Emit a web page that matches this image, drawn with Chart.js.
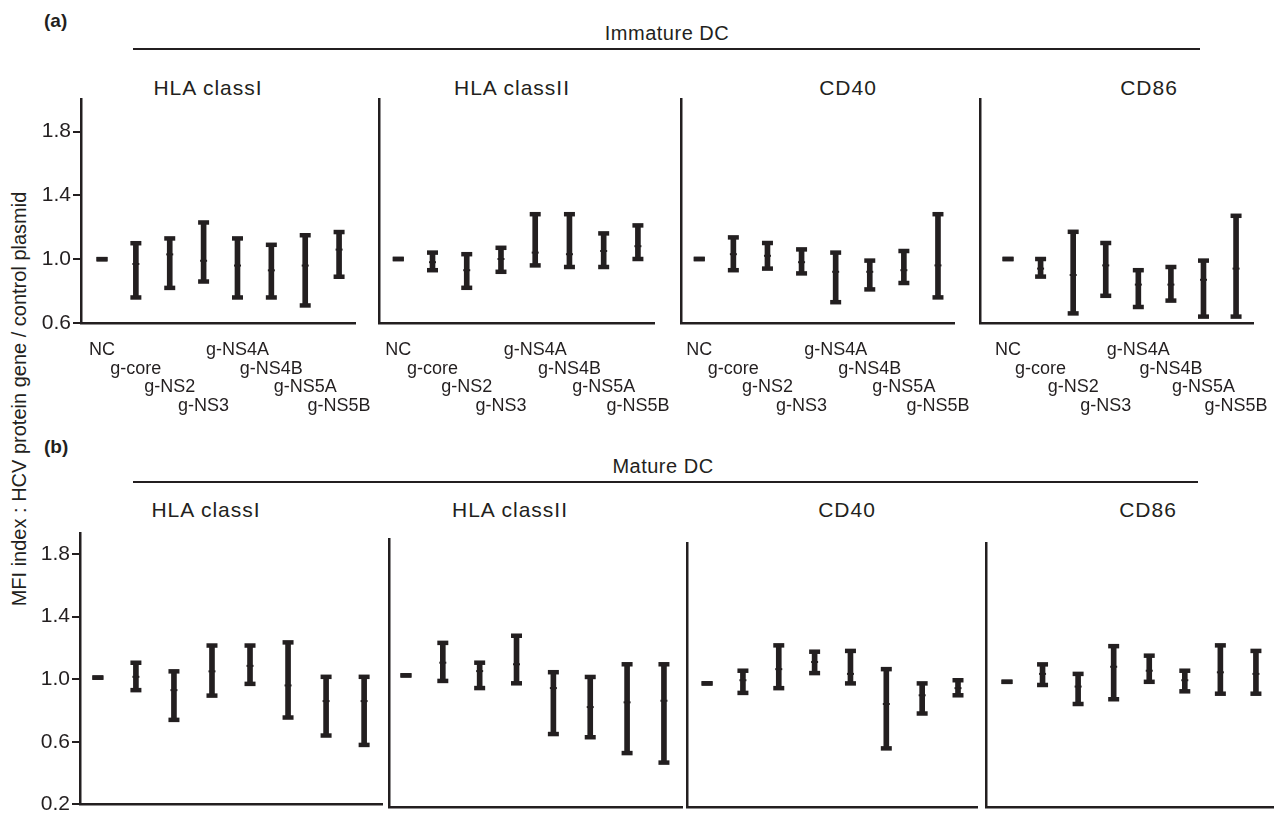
<!DOCTYPE html>
<html>
<head>
<meta charset="utf-8">
<title>MFI index of DC markers</title>
<script src="https://cdn.jsdelivr.net/npm/chart.js@4.4.1/dist/chart.umd.min.js"></script>
<style>
  body { margin: 0; background: #fff; font-family: "Liberation Sans", Arial, sans-serif; color: #231f20; }
  #page { position: relative; width: 1279px; height: 819px; overflow: hidden; }
  .txt { position: absolute; white-space: nowrap; transform: translate(-50%, -50%); }
  .title { font-size: 21px; letter-spacing: 1px; }
  .tag { font-weight: bold; font-size: 19px; transform: translate(0, -50%); }
  .rule { position: absolute; height: 2px; background: #231f20; }
  canvas { position: absolute; }
</style>
</head>
<body>
<div id="page">
  <div class="txt tag" style="left:44px; top:21px;">(a)</div>
  <div class="txt" style="left:667px; top:33px; font-size:20px; letter-spacing:0.5px;">Immature DC</div>
  <div class="rule" style="left:133px; top:48px; width:1067px;"></div>

  <div class="txt tag" style="left:44px; top:447px;">(b)</div>
  <div class="txt" style="left:663px; top:466px; font-size:20px; letter-spacing:0.5px;">Mature DC</div>
  <div class="rule" style="left:133px; top:481px; width:1065px;"></div>

  <div class="txt" style="left:19px; top:399px; font-size:20px; transform: translate(-50%, -50%) rotate(-90deg);">MFI index : HCV protein gene / control plasmid</div>
</div>
<script>
var ink = "#231f20";

var categories = ["NC", "g-core", "g-NS2", "g-NS3", "g-NS4A", "g-NS4B", "g-NS5A", "g-NS5B"];
var markers = ["HLA classI", "HLA classII", "CD40", "CD86"];
var immatureTicks = [0.6, 1.0, 1.4, 1.8];
var matureTicks = [0.2, 0.6, 1.0, 1.4, 1.8];

// (a) immature DC : low end, middle mark, high end of each range
var immHLAILow   = [1.00, 0.76, 0.82, 0.86, 0.76, 0.76, 0.71, 0.89];
var immHLAIMid   = [1.00, 0.97, 1.03, 0.99, 0.96, 0.93, 0.96, 1.06];
var immHLAIHigh  = [1.00, 1.10, 1.13, 1.23, 1.13, 1.09, 1.15, 1.17];

var immHLAIILow  = [1.00, 0.93, 0.82, 0.92, 0.96, 0.95, 0.95, 1.00];
var immHLAIIMid  = [1.00, 0.98, 0.93, 1.00, 1.04, 1.03, 1.05, 1.08];
var immHLAIIHigh = [1.00, 1.04, 1.03, 1.07, 1.28, 1.28, 1.16, 1.21];

var immCD40Low   = [1.00, 0.93, 0.94, 0.91, 0.73, 0.81, 0.85, 0.76];
var immCD40Mid   = [1.00, 1.03, 1.02, 0.98, 0.92, 0.92, 0.93, 0.96];
var immCD40High  = [1.00, 1.135, 1.10, 1.06, 1.04, 0.99, 1.05, 1.28];

var immCD86Low   = [1.00, 0.89, 0.66, 0.77, 0.70, 0.74, 0.64, 0.64];
var immCD86Mid   = [1.00, 0.94, 0.90, 0.96, 0.84, 0.84, 0.87, 0.94];
var immCD86High  = [1.00, 1.00, 1.17, 1.10, 0.93, 0.95, 0.99, 1.27];

// (b) mature DC
var matHLAILow   = [1.01, 0.93, 0.74, 0.895, 0.97, 0.755, 0.64, 0.58];
var matHLAIMid   = [1.01, 1.015, 0.93, 1.05, 1.085, 0.96, 0.86, 0.86];
var matHLAIHigh  = [1.01, 1.105, 1.05, 1.215, 1.215, 1.235, 1.015, 1.015];

var matHLAIILow  = [1.03, 0.995, 0.95, 0.98, 0.66, 0.64, 0.54, 0.48];
var matHLAIIMid  = [1.03, 1.11, 1.057, 1.10, 0.95, 0.83, 0.86, 0.87];
var matHLAIIHigh = [1.03, 1.235, 1.11, 1.28, 1.05, 1.02, 1.10, 1.10];

var matCD40Low   = [0.98, 0.92, 0.95, 1.045, 0.98, 0.57, 0.79, 0.905];
var matCD40Mid   = [0.98, 1.00, 1.07, 1.115, 1.04, 0.85, 0.905, 0.95];
var matCD40High  = [0.98, 1.06, 1.22, 1.18, 1.185, 1.07, 0.98, 1.00];

var matCD86Low   = [0.99, 0.97, 0.85, 0.88, 0.99, 0.93, 0.915, 0.915];
var matCD86Mid   = [0.99, 1.04, 0.96, 1.085, 1.06, 1.00, 1.05, 1.04];
var matCD86High  = [0.99, 1.10, 1.04, 1.215, 1.155, 1.06, 1.22, 1.185];

// panel boxes in page pixels (plot area), plus axis ranges
var panels = [
  {name: markers[0], low: immHLAILow,  mid: immHLAIMid,  high: immHLAIHigh,  left: 81,  right: 355,  top: 99,  bottom: 323, yMin: 0.6, yMax: 2.0,   xMin: -0.62, xMax: 7.47, ticks: immatureTicks, first: true,  labels: true, titleX: 208,  titleY: 88},
  {name: markers[1], low: immHLAIILow, mid: immHLAIIMid, high: immHLAIIHigh, left: 379, right: 654,  top: 99,  bottom: 323, yMin: 0.6, yMax: 2.0,   xMin: -0.55, xMax: 7.47, ticks: immatureTicks, first: false, labels: true, titleX: 512,  titleY: 88},
  {name: markers[2], low: immCD40Low,  mid: immCD40Mid,  high: immCD40High,  left: 680, right: 954,  top: 99,  bottom: 323, yMin: 0.6, yMax: 2.0,   xMin: -0.52, xMax: 7.47, ticks: immatureTicks, first: false, labels: true, titleX: 848,  titleY: 88},
  {name: markers[3], low: immCD86Low,  mid: immCD86Mid,  high: immCD86High,  left: 980, right: 1253, top: 99,  bottom: 323, yMin: 0.6, yMax: 2.0,   xMin: -0.86, xMax: 7.52, ticks: immatureTicks, first: false, labels: true, titleX: 1149, titleY: 88},
  {name: markers[0], low: matHLAILow,  mid: matHLAIMid,  high: matHLAIHigh,  left: 80,  right: 382,  top: 533, bottom: 807, yMin: 0.2, yMax: 1.93,  xMin: -0.47, xMax: 7.47, ticks: matureTicks, first: true,  labels: false, titleX: 206,  titleY: 510},
  {name: markers[1], low: matHLAIILow, mid: matHLAIIMid, high: matHLAIIHigh, left: 389, right: 682,  top: 539, bottom: 807, yMin: 0.2, yMax: 1.89,  xMin: -0.46, xMax: 7.49, ticks: matureTicks, first: false, labels: false, titleX: 510,  titleY: 510},
  {name: markers[2], low: matCD40Low,  mid: matCD40Mid,  high: matCD40High,  left: 687, right: 977,  top: 543, bottom: 807, yMin: 0.2, yMax: 1.866, xMin: -0.56, xMax: 7.53, ticks: matureTicks, first: false, labels: false, titleX: 847,  titleY: 510},
  {name: markers[3], low: matCD86Low,  mid: matCD86Mid,  high: matCD86High,  left: 986, right: 1273, top: 543, bottom: 807, yMin: 0.2, yMax: 1.866, xMin: -0.59, xMax: 7.48, ticks: matureTicks, first: false, labels: false, titleX: 1148, titleY: 510}
];

var page = document.getElementById("page");

function points(values) {
  return categories.map(function (c, i) { return {x: i, y: values[i]}; });
}

function capSet(values, r, w) {
  return {
    type: "line",
    data: points(values),
    showLine: false,
    pointStyle: "line",
    pointRadius: r,
    pointHoverRadius: r,
    pointBorderWidth: w,
    pointBorderColor: ink,
    pointBackgroundColor: ink,
    clip: false
  };
}

panels.forEach(function (p) {
  var padT = 14;
  var padR = p.labels ? 40 : 6;
  var yw = p.first ? 60 : 4;
  var xh = p.labels ? 110 : 12;

  var t = document.createElement("div");
  t.className = "txt title";
  t.style.left = p.titleX + "px";
  t.style.top = p.titleY + "px";
  t.textContent = p.name;
  page.appendChild(t);

  var cv = document.createElement("canvas");
  cv.width = yw + (p.right - p.left) + padR;
  cv.height = padT + (p.bottom - p.top) + xh;
  cv.style.left = (p.left - yw) + "px";
  cv.style.top = (p.top - padT) + "px";
  page.appendChild(cv);

  new Chart(cv.getContext("2d"), {
    type: "bar",
    data: {
      datasets: [
        {
          data: categories.map(function (c, i) { return {x: i, y: [p.low[i], p.high[i]]}; }),
          backgroundColor: ink,
          borderWidth: 0,
          barThickness: 5
        },
        capSet(p.high, 5.5, 4.5),
        capSet(p.low, 5.5, 4.5),
        capSet(p.mid, 3.5, 2)
      ]
    },
    options: {
      responsive: false,
      maintainAspectRatio: false,
      animation: false,
      layout: { autoPadding: false, padding: { top: padT, right: padR, left: 0, bottom: 0 } },
      plugins: { legend: { display: false }, tooltip: { enabled: false } },
      scales: {
        x: {
          type: "linear",
          offset: false,
          min: p.xMin,
          max: p.xMax,
          afterBuildTicks: function (s) { s.ticks = categories.map(function (c, i) { return {value: i}; }); },
          afterFit: function (s) { s.height = xh; },
          grid: { display: false, offset: false },
          border: { display: true, color: ink, width: 2.5 },
          ticks: {
            display: p.labels,
            autoSkip: false,
            maxRotation: 0,
            minRotation: 0,
            padding: 10,
            color: ink,
            font: { family: "'Liberation Sans', Arial, sans-serif", size: 18, lineHeight: 1.03 },
            callback: function (v) {
              var i = Math.round(v);
              var lines = [];
              for (var k = 0; k < i % 4; k++) lines.push("");
              lines.push(categories[i]);
              return lines;
            }
          }
        },
        y: {
          type: "linear",
          min: p.yMin,
          max: p.yMax,
          afterBuildTicks: function (s) { s.ticks = p.ticks.map(function (v) { return {value: v}; }); },
          afterFit: function (s) { s.width = yw; },
          grid: { display: p.first, drawOnChartArea: false, drawTicks: true, tickLength: 8, color: ink, lineWidth: 2 },
          border: { display: true, color: ink, width: 2.5 },
          ticks: {
            display: p.first,
            padding: 2,
            color: ink,
            font: { family: "'Liberation Sans', Arial, sans-serif", size: 21 },
            callback: function (v) { return v.toFixed(1); }
          }
        }
      }
    }
  });
});
</script>
</body>
</html>
